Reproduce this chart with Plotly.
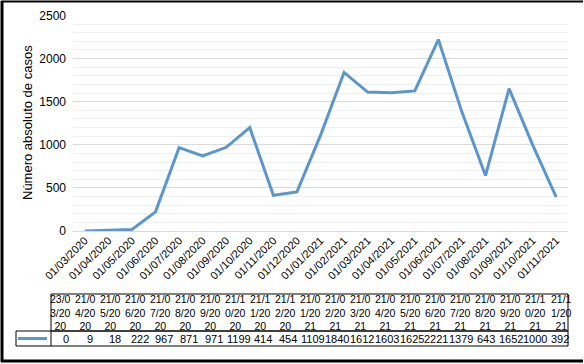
import plotly.graph_objects as go

W, H = 584, 364

categories = ["01/03/2020", "01/04/2020", "01/05/2020", "01/06/2020", "01/07/2020",
              "01/08/2020", "01/09/2020", "01/10/2020", "01/11/2020", "01/12/2020",
              "01/01/2021", "01/02/2021", "01/03/2021", "01/04/2021", "01/05/2021",
              "01/06/2021", "01/07/2021", "01/08/2021", "01/09/2021", "01/10/2021",
              "01/11/2021"]
table_headers = ["23/03/2020", "21/04/2020", "21/05/2020", "21/06/2020", "21/07/2020",
                 "21/08/2020", "21/09/2020", "21/10/2020", "21/11/2020", "21/12/2020",
                 "21/01/2021", "21/02/2021", "21/03/2021", "21/04/2021", "21/05/2021",
                 "21/06/2021", "21/07/2021", "21/08/2021", "21/09/2021", "21/10/2021",
                 "21/11/2021"]
casos = [0, 9, 18, 222, 967, 871, 971, 1199, 414, 454, 1109, 1840, 1612, 1603,
         1625, 2221, 1379, 643, 1652, 1000, 392]
y_title = "Número absoluto de casos"

LINE = "#5b96cc"
FONT = "Arial, Liberation Sans, sans-serif"


def px(x):
    return x / W


def py(y):
    return 1 - y / H


fig = go.Figure()
fig.add_trace(go.Scatter(x=categories, y=casos, mode="lines",
                         line=dict(color=LINE, width=3), showlegend=False,
                         hoverinfo="x+y"))

shapes = []
annotations = []

# data table boxes
shapes.append(dict(type="rect", xref="paper", yref="paper", x0=px(51), x1=px(568),
                   y0=py(331), y1=py(294), line=dict(color="black", width=1)))
shapes.append(dict(type="rect", xref="paper", yref="paper", x0=px(16), x1=px(568),
                   y0=py(346), y1=py(331), line=dict(color="black", width=1)))
shapes.append(dict(type="line", xref="paper", yref="paper", x0=px(51), x1=px(51),
                   y0=py(346), y1=py(331), line=dict(color="black", width=1)))
# legend key
shapes.append(dict(type="line", xref="paper", yref="paper", x0=px(18), x1=px(47),
                   y0=py(338.5), y1=py(338.5), line=dict(color=LINE, width=3)))
# outer frame (left, top, bottom)
shapes.append(dict(type="line", xref="paper", yref="paper", x0=px(2), x1=px(2),
                   y0=py(362), y1=py(1), line=dict(color="black", width=3)))
shapes.append(dict(type="line", xref="paper", yref="paper", x0=px(1), x1=px(583),
                   y0=py(1.5), y1=py(1.5), line=dict(color="black", width=2)))
shapes.append(dict(type="line", xref="paper", yref="paper", x0=px(1), x1=px(583),
                   y0=py(361), y1=py(361), line=dict(color="black", width=3)))

n = len(table_headers)
for i, (h, v) in enumerate(zip(table_headers, casos)):
    hx = 60 + (561 - 60) * i / (n - 1)
    vx = 65.5 + (560 - 65.5) * i / (n - 1)
    parts = [h[0:4], h[4:8], h[8:10]]
    annotations.append(dict(xref="paper", yref="paper", x=px(hx), y=py(312.5),
                            text="<br>".join(parts), showarrow=False,
                            font=dict(family=FONT, size=10.5, color="black"),
                            xanchor="center", yanchor="middle", align="center"))
    annotations.append(dict(xref="paper", yref="paper", x=px(vx), y=py(339),
                            text=str(v), showarrow=False,
                            font=dict(family=FONT, size=11, color="black"),
                            xanchor="center", yanchor="middle"))

annotations.append(dict(xref="paper", yref="paper", x=px(27), y=py(123),
                        text=y_title, textangle=-90, showarrow=False,
                        font=dict(family=FONT, size=13, color="black"),
                        xanchor="center", yanchor="middle"))

fig.update_layout(
    width=W, height=H, autosize=False,
    margin=dict(l=0, r=0, t=0, b=0, autoexpand=False),
    paper_bgcolor="white", plot_bgcolor="white",
    font=dict(family=FONT, color="black"),
    shapes=shapes, annotations=annotations,
    xaxis=dict(domain=[px(73), px(568)], type="category", range=[-0.5, 20.5],
               tickangle=-45, tickfont=dict(size=11, color="black"),
               showgrid=False, showline=False, zeroline=False, ticks="",
               automargin=False),
    yaxis=dict(domain=[py(231), py(15.5)], range=[0, 2500], dtick=500,
               tickfont=dict(size=12, color="black"), gridcolor="#d9d9d9",
               gridwidth=1, zeroline=True, zerolinecolor="#d9d9d9",
               zerolinewidth=1, showline=False, ticks="", ticklabelstandoff=6,
               automargin=False,
               minor=dict(dtick=100, showgrid=True, gridcolor="#efefef",
                          gridwidth=1)),
)

fig.write_html("out.html",
               config={"displayModeBar": False},
               post_script="document.body.style.margin='0';"
                           "document.body.style.padding='0';"
                           "document.body.style.overflow='hidden';")
